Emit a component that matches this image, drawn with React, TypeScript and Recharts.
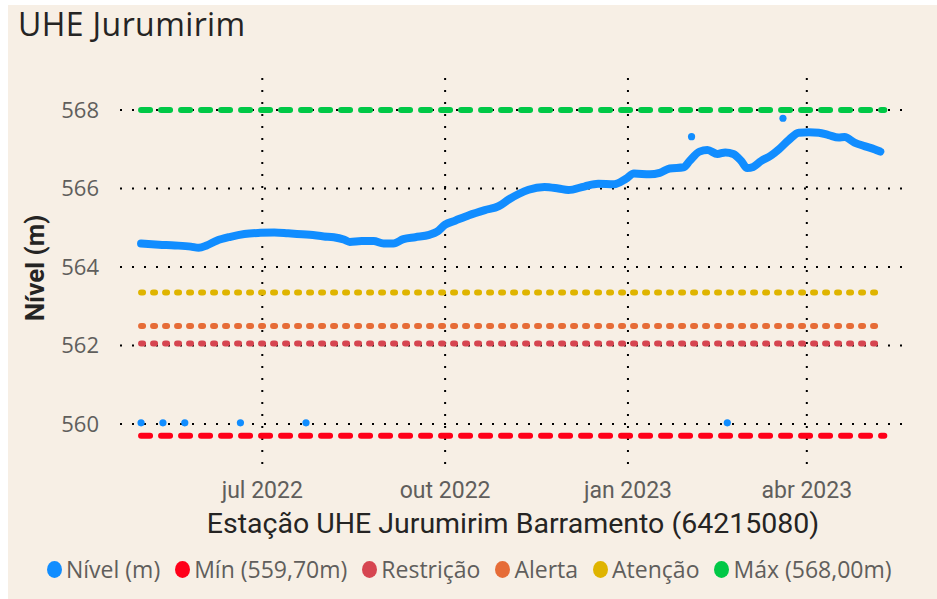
import React from 'react';
import { ComposedChart, Line, Scatter, XAxis, YAxis, CartesianGrid } from 'recharts';

const DAY = 86400000;
const toTime = (d: string) => Date.parse(d + 'T00:00:00Z');

// Nível do reservatório (m), leitura aproximada do gráfico
const nivelDates = [
  '2022-05-01', '2022-05-10', '2022-05-18', '2022-05-26', '2022-05-30', '2022-06-03', '2022-06-08',
  '2022-06-15', '2022-06-22', '2022-06-30', '2022-07-07', '2022-07-14', '2022-07-25', '2022-08-01',
  '2022-08-06', '2022-08-11', '2022-08-14', '2022-08-20', '2022-08-26', '2022-08-31', '2022-09-05',
  '2022-09-10', '2022-09-16', '2022-09-23', '2022-09-27', '2022-10-01', '2022-10-06', '2022-10-13',
  '2022-10-21', '2022-10-28', '2022-11-02', '2022-11-07', '2022-11-12', '2022-11-20', '2022-11-27',
  '2022-12-02', '2022-12-10', '2022-12-17', '2022-12-25', '2022-12-31', '2023-01-04', '2023-01-12',
  '2023-01-17', '2023-01-22', '2023-01-29', '2023-02-01', '2023-02-06', '2023-02-10', '2023-02-15',
  '2023-02-19', '2023-02-23', '2023-02-27', '2023-03-02', '2023-03-05', '2023-03-09', '2023-03-14',
  '2023-03-18', '2023-03-23', '2023-03-28', '2023-04-02', '2023-04-07', '2023-04-12', '2023-04-17',
  '2023-04-20', '2023-04-25', '2023-04-30', '2023-05-05', '2023-05-08',
];
const nivelValues = [
  564.60, 564.57, 564.55, 564.52, 564.49, 564.55, 564.67,
  564.77, 564.84, 564.87, 564.88, 564.86, 564.82, 564.78,
  564.76, 564.70, 564.64, 564.66, 564.66, 564.60, 564.60,
  564.71, 564.76, 564.82, 564.90, 565.08, 565.18, 565.32,
  565.45, 565.55, 565.72, 565.86, 565.97, 566.04, 566.00,
  565.96, 566.05, 566.12, 566.11, 566.25, 566.38, 566.36,
  566.40, 566.51, 566.54, 566.70, 566.94, 566.98, 566.88,
  566.92, 566.88, 566.70, 566.52, 566.55, 566.70, 566.84,
  567.00, 567.24, 567.42, 567.43, 567.42, 567.36, 567.30,
  567.31, 567.17, 567.08, 567.00, 566.94,
];

// leituras isoladas
const outlierDates = ['2022-05-01', '2022-05-12', '2022-05-23', '2022-06-20', '2022-07-23', '2023-02-02', '2023-02-20', '2023-03-20'];
const outlierValues = [560.03, 560.03, 560.03, 560.03, 560.03, 567.32, 560.03, 567.79];

// cotas de referência
const limitNames = ['Mín (559,70m)', 'Restrição', 'Alerta', 'Atenção', 'Máx (568,00m)'];
const limitValues = [559.7, 562.05, 562.5, 563.35, 568.0];
const limitColors = ['#FF0019', '#D64550', '#E66C37', '#DFB400', '#00C846'];
const limitDash = ['9 11', '2 10', '2 10', '2 10', '9 11'];
const limitStart = '2022-05-01';
const limitEnd = '2023-05-10';

const xTickDates = ['2022-07-01', '2022-10-01', '2023-01-01', '2023-04-01'];
const xTickLabels = ['jul 2022', 'out 2022', 'jan 2023', 'abr 2023'];
const yTicks = [560, 562, 564, 566, 568];

const BLUE = '#118DFF';
const UI_FONT = "'Open Sans', 'Noto Sans', sans-serif";
const COND_FONT = "'Roboto', sans-serif";

const nivelData = nivelDates.map((d, i) => ({ x: toTime(d), y: nivelValues[i] }));
const outlierData = outlierDates.map((d, i) => ({ x: toTime(d), y: outlierValues[i] }));
const limitData = limitValues.map((v) => [
  { x: toTime(limitStart), y: v },
  { x: toTime(limitEnd), y: v },
]);
const xTicks = xTickDates.map(toTime);
const xDomain = [toTime('2022-07-01') - 71.6 * DAY, toTime('2022-07-01') + 321.9 * DAY];

const XTick = ({ x, y, payload }: any) => {
  const i = xTicks.indexOf(payload.value);
  return (
    <text x={x} y={y + 28} textAnchor="middle" fill="#605E5C" fontSize={23} fontFamily={COND_FONT}>
      {xTickLabels[i]}
    </text>
  );
};

const YTick = ({ x, y, payload }: any) => (
  <text x={x} y={y} dy="0.36em" textAnchor="end" fill="#605E5C" fontSize={22} fontFamily={UI_FONT}>
    {payload.value}
  </text>
);

const Dot = (props: any) => <circle cx={props.cx} cy={props.cy} r={3.6} fill={BLUE} />;

const legendItems = [{ name: 'Nível (m)', color: BLUE }].concat(
  limitNames.map((n, i) => ({ name: n, color: limitColors[i] }))
);

export default function App() {
  return (
    <div
      style={{
        position: 'absolute',
        left: 8,
        top: 5,
        width: 929,
        height: 594,
        background: '#F7EFE5',
      }}
    >
      <div
        style={{
          position: 'absolute',
          left: 10,
          top: 3,
          fontFamily: UI_FONT,
          fontSize: 32,
          lineHeight: 1,
          letterSpacing: 0.4,
          color: '#252423',
          whiteSpace: 'nowrap',
        }}
      >
        UHE Jurumirim
      </div>

      <ComposedChart width={929} height={594} margin={{ top: 73, right: 35, bottom: 0, left: 52 }}>
        <CartesianGrid stroke="#000" strokeWidth={2} strokeDasharray="2 10" syncWithTicks />
        <XAxis
          type="number"
          dataKey="x"
          domain={xDomain}
          ticks={xTicks}
          allowDataOverflow
          height={131}
          axisLine={false}
          tickLine={false}
          tickSize={0}
          tick={<XTick />}
        />
        <YAxis
          type="number"
          domain={[558.88, 568.815]}
          ticks={yTicks}
          allowDataOverflow
          width={60}
          axisLine={false}
          tickLine={false}
          tickSize={0}
          tickMargin={21}
          tick={<YTick />}
        />
        {limitData.map((d, i) => (
          <Line
            key={limitNames[i]}
            data={d}
            dataKey="y"
            name={limitNames[i]}
            stroke={limitColors[i]}
            strokeWidth={6}
            strokeDasharray={limitDash[i]}
            strokeLinecap="round"
            dot={false}
            activeDot={false}
            isAnimationActive={false}
          />
        ))}
        <Line
          data={nivelData}
          dataKey="y"
          name="Nível (m)"
          type="monotone"
          stroke={BLUE}
          strokeWidth={8}
          strokeLinecap="round"
          strokeLinejoin="round"
          dot={false}
          activeDot={false}
          isAnimationActive={false}
        />
        <Scatter data={outlierData} dataKey="y" shape={<Dot />} isAnimationActive={false} />
      </ComposedChart>

      <svg width={929} height={594} style={{ position: 'absolute', left: 0, top: 0, pointerEvents: 'none' }}>
        <text x={505} y={528} textAnchor="middle" fontSize={28.5} fontFamily={COND_FONT} fill="#252423">
          Estação UHE Jurumirim Barramento (64215080)
        </text>
        <text
          transform="translate(27,263) rotate(-90)"
          textAnchor="middle"
          dy="0.35em"
          fontSize={26}
          fontWeight="bold"
          fontFamily={COND_FONT}
          fill="#252423"
        >
          Nível (m)
        </text>
      </svg>

      <div
        style={{
          position: 'absolute',
          left: 39,
          top: 551,
          height: 26,
          display: 'flex',
          alignItems: 'center',
          fontFamily: UI_FONT,
          fontSize: 23,
          color: '#605E5C',
          whiteSpace: 'nowrap',
        }}
      >
        {legendItems.map((it) => (
          <div key={it.name} style={{ display: 'flex', alignItems: 'center', marginRight: 15 }}>
            <span
              style={{
                width: 15,
                height: 17,
                borderRadius: '50%',
                background: it.color,
                display: 'inline-block',
                marginRight: 4,
              }}
            />
            <span>{it.name}</span>
          </div>
        ))}
      </div>
    </div>
  );
}
